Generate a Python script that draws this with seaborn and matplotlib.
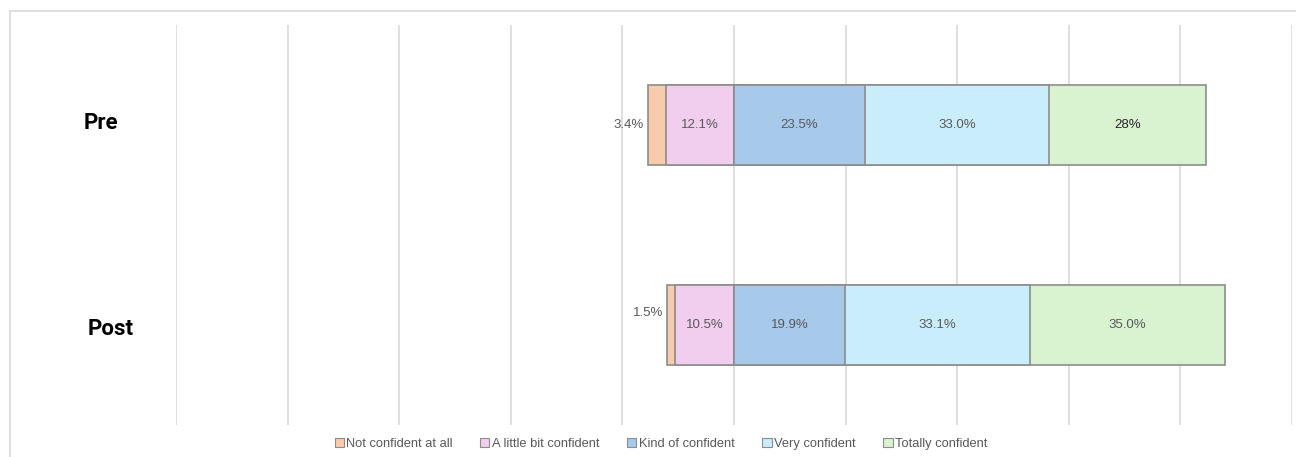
import matplotlib
matplotlib.use("Agg")
import matplotlib.pyplot as plt
from matplotlib.lines import Line2D
from matplotlib.patches import Patch
import numpy as np
import pandas as pd
import seaborn as sns

# Survey responses (% of respondents)
groups = ["Pre", "Post"]
levels = ["Not confident at all", "A little bit confident", "Kind of confident",
          "Very confident", "Totally confident"]
not_confident = [3.4, 1.5]
little_bit = [12.1, 10.5]
kind_of = [23.5, 19.9]
very = [33.0, 33.1]
totally = [28.0, 35.0]
value_labels = [["3.4%", "12.1%", "23.5%", "33.0%", "28%"],
                ["1.5%", "10.5%", "19.9%", "33.1%", "35.0%"]]

colors = ["#F8CBAD", "#F1CDEE", "#A7C9EA", "#CAEDFB", "#D9F2D0"]
edge = "#8C8C8C"

sns.set_theme(style="white")
plt.rcParams["font.family"] = ["Liberation Sans", "DejaVu Sans"]

W, H = 1296, 457
fig = plt.figure(figsize=(W / 100, H / 100), dpi=100)
ax = fig.add_axes([176 / W, 32 / H, (1292 - 176) / W, 400 / H])

df = pd.DataFrame({"group": groups,
                   "not": not_confident, "little": little_bit, "kind": kind_of,
                   "very": very, "totally": totally})

# Diverging stack: negative side = not + little, positive side = kind + very + totally
df["neg_outer"] = -(df["not"] + df["little"])
df["neg_inner"] = -df["little"]
df["pos_outer"] = df["kind"] + df["very"] + df["totally"]
df["pos_mid"] = df["kind"] + df["very"]
df["pos_inner"] = df["kind"]

layers = [("neg_outer", colors[0]), ("neg_inner", colors[1]),
          ("pos_outer", colors[4]), ("pos_mid", colors[3]), ("pos_inner", colors[2])]
for col, c in layers:
    sns.barplot(data=df, x=col, y="group", order=groups, orient="h", color=c,
                edgecolor=edge, linewidth=1.2, width=0.4, saturation=1, ax=ax, zorder=3)

ax.set_xlim(-100, 100)
ax.set_ylim(1.5, -0.5)
ax.set_xticks(np.arange(-100, 101, 20))
ax.xaxis.grid(True, color="#D9D9D9", linewidth=1.2, zorder=0)
ax.yaxis.grid(False)
ax.tick_params(left=False, bottom=False, labelleft=False, labelbottom=False)
ax.set_xlabel("")
ax.set_ylabel("")
for s in ax.spines.values():
    s.set_visible(False)

# Value labels
txt_color = "#595959"
for i in range(len(groups)):
    segs = [(-(not_confident[i] + little_bit[i]), -little_bit[i]),
            (-little_bit[i], 0),
            (0, kind_of[i]),
            (kind_of[i], kind_of[i] + very[i]),
            (kind_of[i] + very[i], kind_of[i] + very[i] + totally[i])]
    for j, (a, b) in enumerate(segs):
        lab = value_labels[i][j]
        if j == 0:
            dy = 0 if i == 0 else -9
            ax.annotate(lab, xy=(a, i), xytext=(-3, -dy), textcoords="offset points",
                        ha="right", va="center", fontsize=9.5, color=txt_color)
        else:
            col = "#262626" if lab == "28%" else txt_color
            ax.text((a + b) / 2, i, lab, ha="center", va="center",
                    fontsize=9.5, color=col, zorder=5)

# Group names on the left
name_pos = [(101, 123), (111, 329)]
for g, (px, py) in zip(groups, name_pos):
    fig.text(px / W, 1 - py / H, g, ha="center", va="center",
             fontsize=16, fontweight="bold", color="black",
             family=["Roboto", "DejaVu Sans"])

# Chart frame
fig.add_artist(Line2D([10 / W, 10 / W], [0, 1 - 11 / H], transform=fig.transFigure,
                      color="#D9D9D9", linewidth=1.2))
fig.add_artist(Line2D([10 / W, 1], [1 - 11 / H, 1 - 11 / H], transform=fig.transFigure,
                      color="#D9D9D9", linewidth=1.2))

handles = [Patch(facecolor=c, edgecolor=edge, linewidth=0.8) for c in colors]
fig.legend(handles, levels, loc="center", bbox_to_anchor=(661 / W, 1 - 444 / H),
           ncol=5, frameon=False, fontsize=9.3, handlelength=0.7, handleheight=0.7,
           handletextpad=0.2, columnspacing=2.15, labelcolor="#595959")

fig.savefig("out.png", dpi=100)
